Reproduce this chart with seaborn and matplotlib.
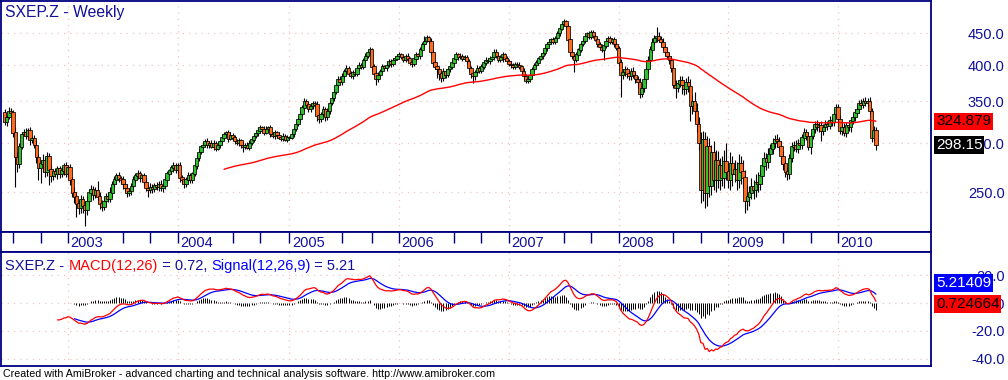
import numpy as np
import pandas as pd
import seaborn as sns
import matplotlib.pyplot as plt
from matplotlib.ticker import NullLocator, NullFormatter

# weekly closes, one list per calendar year (Fridays)
first_open = 336
close_2002 = [324, 330, 338, 336, 312, 285, 278, 296, 310, 312,
              308, 314, 303, 305, 298, 285, 274, 278, 282, 270,
              286, 272, 266, 270, 268, 273, 268, 271, 276, 268]
close_2003 = [274, 262, 250, 246, 240, 236, 244, 238, 234, 242,
              250, 253, 248, 252, 246, 240, 237, 242, 246, 244,
              250, 258, 262, 266, 263, 262, 258, 254, 250, 251,
              256, 262, 266, 268, 264, 266, 260, 254, 252, 255,
              253, 257, 255, 258, 254, 256, 262, 268, 271, 274,
              276, 272]
close_2004 = [276, 264, 262, 258, 262, 266, 262, 268, 276, 284,
              290, 296, 298, 302, 298, 300, 296, 300, 294, 298,
              302, 306, 310, 312, 305, 309, 306, 302, 300, 303,
              298, 296, 298, 295, 300, 304, 308, 311, 314, 318,
              316, 312, 316, 318, 310, 308, 312, 309, 306, 305,
              308, 304, 306]
close_2005 = [306, 310, 316, 322, 328, 334, 342, 350, 346, 340,
              344, 348, 346, 332, 328, 334, 340, 330, 338, 348,
              354, 362, 372, 380, 376, 384, 392, 396, 388, 384,
              390, 388, 396, 400, 398, 408, 414, 420, 424, 398,
              388, 380, 386, 392, 398, 396, 400, 406, 402, 408,
              410, 414]
close_2006 = [416, 412, 408, 414, 410, 404, 402, 410, 416, 414,
              424, 432, 438, 443, 438, 420, 404, 398, 394, 388,
              382, 392, 386, 394, 398, 404, 410, 416, 412, 414,
              410, 412, 406, 396, 388, 384, 390, 396, 392, 398,
              404, 408, 406, 410, 412, 420, 414, 408, 412, 416,
              410, 406]
close_2007 = [402, 400, 398, 401, 400, 398, 392, 384, 378, 380,
              386, 394, 400, 404, 410, 414, 418, 426, 432, 436,
              440, 436, 442, 450, 458, 466, 470, 462, 440, 420,
              414, 408, 416, 424, 432, 438, 446, 450, 444, 452,
              446, 440, 432, 428, 424, 430, 438, 442, 436, 440,
              432, 426]
close_2008 = [404, 386, 390, 394, 388, 384, 392, 386, 380, 376,
              360, 368, 380, 394, 408, 424, 436, 442, 446, 440,
              436, 428, 420, 414, 408, 396, 372, 368, 374, 378,
              372, 366, 376, 370, 344, 350, 338, 322, 300, 252,
              304, 250, 296, 256, 290, 262, 282, 262, 276, 264,
              280, 270]
close_2009 = [262, 278, 268, 272, 262, 278, 270, 264, 242, 246,
              250, 256, 252, 260, 258, 266, 276, 284, 280, 288,
              294, 300, 304, 302, 296, 286, 278, 270, 268, 284,
              296, 298, 294, 300, 298, 306, 312, 308, 296, 308,
              316, 322, 318, 320, 314, 318, 322, 320, 326, 324,
              334, 342]
close_2010 = [328, 314, 318, 312, 320, 318, 326, 330, 336, 340,
              348, 346, 350, 348, 350, 338, 306, 314, 298.15]

# wick lengths above / below the candle bodies
up_2002 = [4, 3, 5, 4, 3, 6, 5, 4, 3, 4, 5, 3, 4, 3, 4, 5, 3, 4, 6, 3,
           4, 3, 5, 3, 4, 3, 3, 4, 3, 4]
dn_2002 = [3, 4, 2, 3, 5, 30, 8, 4, 3, 2, 4, 3, 5, 3, 4, 6, 12, 15, 8, 5,
           4, 15, 6, 4, 3, 5, 4, 3, 4, 3]
up_2003 = [3, 4, 3, 5, 4, 3, 4, 3, 4, 5, 3, 4, 3, 3, 9, 4, 3, 4, 3, 4,
           5, 3, 4, 3, 4, 3, 4, 3, 4, 3, 3, 4, 3, 4, 3, 2, 3, 4, 3, 4,
           3, 2, 3, 3, 4, 3, 4, 3, 2, 3, 4, 3]
dn_2003 = [4, 5, 4, 6, 12, 5, 4, 6, 13, 4, 3, 4, 5, 3, 4, 5, 4, 3, 4, 3,
           3, 4, 3, 4, 3, 4, 5, 3, 4, 3, 3, 4, 3, 3, 4, 3, 4, 3, 6, 3,
           4, 3, 3, 4, 3, 4, 3, 3, 2, 3, 4, 3]
up_2004 = [3, 4, 3, 2, 3, 4, 3, 2, 3, 4, 3, 2, 3, 3, 4, 2, 3, 3, 2, 3,
           3, 4, 3, 2, 3, 3, 2, 3, 2, 3, 2, 3, 2, 3, 3, 2, 3, 3, 4, 3,
           2, 3, 3, 2, 3, 2, 3, 2, 3, 2, 3, 2, 3]
dn_2004 = [3, 4, 3, 4, 3, 2, 3, 3, 2, 3, 3, 2, 3, 2, 3, 3, 2, 4, 3, 2,
           3, 2, 3, 3, 4, 2, 3, 3, 2, 3, 3, 6, 3, 2, 3, 2, 3, 2, 3, 3,
           2, 3, 2, 3, 3, 2, 3, 3, 2, 3, 3, 2, 3]
up_2005 = [2, 3, 2, 3, 3, 4, 3, 4, 3, 3, 4, 3, 3, 4, 3, 3, 4, 3, 4, 3,
           3, 4, 3, 4, 5, 4, 3, 4, 3, 4, 3, 4, 3, 4, 3, 3, 4, 3, 4, 3,
           4, 3, 4, 3, 4, 3, 4, 3, 4, 3, 4, 3]
dn_2005 = [3, 2, 3, 2, 3, 4, 3, 4, 3, 4, 3, 4, 3, 6, 5, 4, 3, 4, 3, 4,
           3, 4, 3, 4, 3, 4, 3, 5, 4, 3, 4, 3, 4, 3, 4, 3, 4, 3, 4, 6,
           4, 8, 4, 3, 4, 3, 4, 3, 4, 3, 4, 3]
up_2006 = [4, 3, 4, 3, 4, 3, 4, 3, 4, 3, 4, 3, 7, 4, 3, 4, 5, 4, 3, 4,
           3, 4, 3, 4, 3, 4, 3, 4, 3, 4, 3, 4, 3, 4, 3, 4, 3, 4, 3, 4,
           3, 4, 3, 4, 3, 4, 5, 4, 3, 4, 3, 4]
dn_2006 = [4, 3, 4, 3, 4, 3, 4, 3, 4, 3, 4, 3, 4, 3, 4, 3, 5, 4, 12, 10,
           6, 5, 4, 3, 4, 3, 4, 3, 4, 3, 4, 3, 4, 5, 6, 9, 5, 4, 3, 4,
           3, 4, 3, 4, 3, 4, 3, 4, 3, 8, 4, 3]
up_2007 = [3, 4, 3, 4, 3, 4, 3, 4, 3, 4, 3, 4, 3, 4, 3, 4, 3, 4, 3, 4,
           3, 4, 3, 4, 4, 3, 4, 3, 4, 3, 4, 3, 4, 3, 4, 5, 4, 3, 4, 3,
           4, 3, 4, 3, 4, 3, 4, 3, 4, 3, 4, 3]
dn_2007 = [3, 4, 3, 4, 3, 4, 5, 6, 4, 3, 4, 3, 4, 3, 4, 3, 4, 3, 4, 3,
           4, 3, 4, 3, 4, 3, 4, 3, 4, 4, 5, 18, 4, 3, 4, 3, 4, 3, 4, 3,
           4, 3, 4, 3, 4, 16, 4, 3, 4, 3, 4, 3]
up_2008 = [4, 5, 4, 5, 4, 5, 4, 5, 4, 5, 6, 5, 6, 5, 6, 5, 6, 5, 14, 6,
           5, 6, 5, 6, 5, 6, 5, 6, 5, 6, 6, 7, 6, 8, 10, 8, 12, 10, 8, 12,
           10, 9, 12, 10, 8, 12, 10, 9, 8, 10, 12, 20]
dn_2008 = [5, 30, 6, 5, 6, 5, 6, 5, 6, 8, 6, 5, 6, 5, 6, 5, 6, 5, 6, 5,
           6, 5, 6, 5, 6, 6, 5, 14, 6, 5, 12, 8, 6, 8, 18, 10, 12, 10, 8, 12,
           10, 14, 12, 10, 8, 10, 12, 8, 10, 8, 10, 8]
up_2009 = [10, 12, 8, 10, 8, 10, 8, 12, 8, 10, 6, 8, 6, 8, 10, 6, 8, 6, 5, 6,
           5, 6, 5, 6, 5, 6, 5, 4, 5, 4, 5, 4, 5, 4, 5, 4, 5, 4, 5, 4,
           5, 4, 5, 4, 5, 4, 5, 4, 5, 4, 5, 4]
dn_2009 = [8, 10, 12, 8, 10, 8, 12, 10, 10, 8, 8, 6, 8, 6, 8, 6, 8, 6, 8, 6,
           5, 6, 5, 6, 5, 8, 6, 5, 6, 5, 4, 5, 4, 5, 4, 5, 4, 5, 4, 8,
           4, 5, 4, 5, 12, 5, 4, 5, 4, 5, 4, 5]
up_2010 = [4, 5, 4, 5, 4, 5, 4, 5, 4, 5, 4, 5, 4, 5, 4, 5, 4, 5, 4]
dn_2010 = [5, 4, 5, 4, 5, 4, 5, 4, 5, 4, 5, 4, 5, 4, 5, 4, 5, 4, 6]

price_ticks = [250, 300, 350, 400, 450]
macd_ticks = [20, 0, -20, -40]
year_labels = ['2003', '2004', '2005', '2006', '2007', '2008', '2009', '2010']
ma_len = 105
last_ma, last_close = '324.879', '298.15'
last_macd, last_signal = '0.724664', '5.21409'

W, H = 1008, 380
NAVY = '#000080'
TXT = '#10109a'
GRID = '#f2c2c2'
UP = '#2fbf2f'
DOWN = '#ff6a1e'


def rect(x0, y0, x1, y1):
    return [x0 / W, 1 - y1 / H, (x1 - x0) / W, (y1 - y0) / H]


close = pd.Series(close_2002 + close_2003 + close_2004 + close_2005 + close_2006
                  + close_2007 + close_2008 + close_2009 + close_2010, dtype=float)
up = np.array(up_2002 + up_2003 + up_2004 + up_2005 + up_2006
              + up_2007 + up_2008 + up_2009 + up_2010, dtype=float)
dn = np.array(dn_2002 + dn_2003 + dn_2004 + dn_2005 + dn_2006
              + dn_2007 + dn_2008 + dn_2009 + dn_2010, dtype=float)
idx = np.arange(len(close))
dates = pd.date_range('2002-06-07', periods=len(close), freq='7D')

opens = close.shift(1)
opens.iloc[0] = first_open
top = np.maximum(opens, close).to_numpy()
bot = np.minimum(opens, close).to_numpy()
hi = top + up
lo = bot - dn
colors = np.where(close >= opens, UP, DOWN)

# long moving average (exponential, seeded with a simple mean)
seed = close.copy()
seed.iloc[:ma_len - 1] = np.nan
seed.iloc[ma_len - 1] = close.iloc[:ma_len].mean()
ma = seed.ewm(span=ma_len, adjust=False).mean()

macd = close.ewm(span=12, adjust=False).mean() - close.ewm(span=26, adjust=False).mean()
macd.iloc[:25] = np.nan
signal = macd.ewm(span=9, adjust=False).mean()
signal.iloc[:33] = np.nan
hist = (macd - signal).to_numpy()

months = np.asarray(dates.month)
new_month = np.r_[False, months[1:] != months[:-1]]
year_idx = idx[new_month & (months == 1)]
tick_idx = idx[new_month & np.isin(months, [1, 7, 10])]

sns.set_style('white')
plt.rcParams['font.family'] = ['Liberation Sans', 'DejaVu Sans']

fig = plt.figure(figsize=(10.08, 3.8), dpi=100)
ax_p = fig.add_axes(rect(1, 1, 931, 232))
ax_d = fig.add_axes(rect(1, 232, 931, 252))
ax_m = fig.add_axes(rect(1, 252, 931, 366))
xlim = (-1.75, 439.1)

for ax in (ax_p, ax_d, ax_m):
    ax.set_xlim(*xlim)
    for sp in ax.spines.values():
        sp.set_color(NAVY)
        sp.set_linewidth(1.3)

# price pane
ax_p.set_yscale('log')
ax_p.set_ylim(215.9, 507.1)
ax_p.vlines(idx, lo, hi, color='black', linewidth=0.8, zorder=2)
ax_p.bar(idx, top - bot + 0.4, bottom=bot - 0.2, width=1.6, color=colors,
         edgecolor='black', linewidth=0.55, zorder=3)
ok = ma.notna().to_numpy()
sns.lineplot(x=idx[ok], y=ma.to_numpy()[ok], ax=ax_p, color='red', linewidth=1, zorder=4)

# macd pane
ax_m.set_ylim(-45.3, 36.7)
ax_m.vlines(idx, 0, hist, color='black', linewidth=0.7, zorder=2)
ok = macd.notna().to_numpy()
sns.lineplot(x=idx[ok], y=macd.to_numpy()[ok], ax=ax_m, color='red', linewidth=0.9, zorder=4)
ok = signal.notna().to_numpy()
sns.lineplot(x=idx[ok], y=signal.to_numpy()[ok], ax=ax_m, color='blue', linewidth=0.9, zorder=3)

for ax, ticks in ((ax_p, price_ticks), (ax_m, macd_ticks)):
    ax.set_xlabel('')
    ax.set_ylabel('')
    ax.set_xticks(year_idx)
    ax.set_yticks(ticks)
    ax.yaxis.set_minor_locator(NullLocator())
    ax.yaxis.set_minor_formatter(NullFormatter())
    ax.set_yticklabels([f'{t:.1f}' for t in ticks])
    ax.tick_params(axis='x', length=0, labelbottom=False)
    ax.tick_params(axis='y', length=0, left=False, labelleft=False, right=True,
                   labelright=True, pad=53, labelsize=10.5, labelcolor=TXT)
    for lab in ax.get_yticklabels():
        lab.set_horizontalalignment('right')
    ax.grid(True, color=GRID, linestyle=(0, (1, 4)), linewidth=0.9)
    ax.set_axisbelow(True)

# date strip
ax_d.set_ylim(0, 1)
ax_d.set_xticks([])
ax_d.set_yticks([])
ax_d.vlines(tick_idx, 0.45, 1, color=NAVY, linewidth=1)
for i, lab in zip(year_idx, year_labels):
    ax_d.text(i + 1.2, 0.46, lab, ha='left', va='center', fontsize=10.5, color=TXT)

# last-value boxes on the right
def value_box(ax, value, text, fc, tc, dy=0):
    ax.annotate(text, xy=(1, value), xycoords=('axes fraction', 'data'),
                xytext=(5, dy), textcoords='offset pixels', ha='left', va='center',
                fontsize=11, color=tc, annotation_clip=False, zorder=10,
                bbox=dict(boxstyle='square,pad=0.12', fc=fc, ec='none'))


value_box(ax_p, float(last_ma), last_ma, 'red', 'black')
value_box(ax_p, float(last_close), last_close, 'black', 'white')
value_box(ax_m, float(last_signal), last_signal, 'blue', 'white', dy=13)
value_box(ax_m, float(last_macd), last_macd, 'red', 'black', dy=-2)

# titles
fig.text(5 / W, 1 - 17 / H, 'SXEP.Z - Weekly', fontsize=11.3, color=TXT, va='baseline')
pieces = [('SXEP.Z - ', TXT), ('MACD(12,26)', 'red'), (' = 0.72, ', TXT),
          ('Signal(12,26,9)', 'blue'), (' = 5.21', TXT)]
t = fig.text(5 / W, 1 - 273 / H, pieces[0][0], fontsize=10.5, color=pieces[0][1], va='bottom')
for s, c in pieces[1:]:
    t = ax_m.annotate(s, xy=(1, 0), xycoords=t, ha='left', va='bottom',
                      fontsize=10.5, color=c, annotation_clip=False)

fig.text(3 / W, 1 - 377 / H,
         'Created with AmiBroker - advanced charting and technical analysis software. http://www.amibroker.com',
         fontsize=7.7, color='black', va='baseline')

fig.savefig('out.png', dpi=100)
